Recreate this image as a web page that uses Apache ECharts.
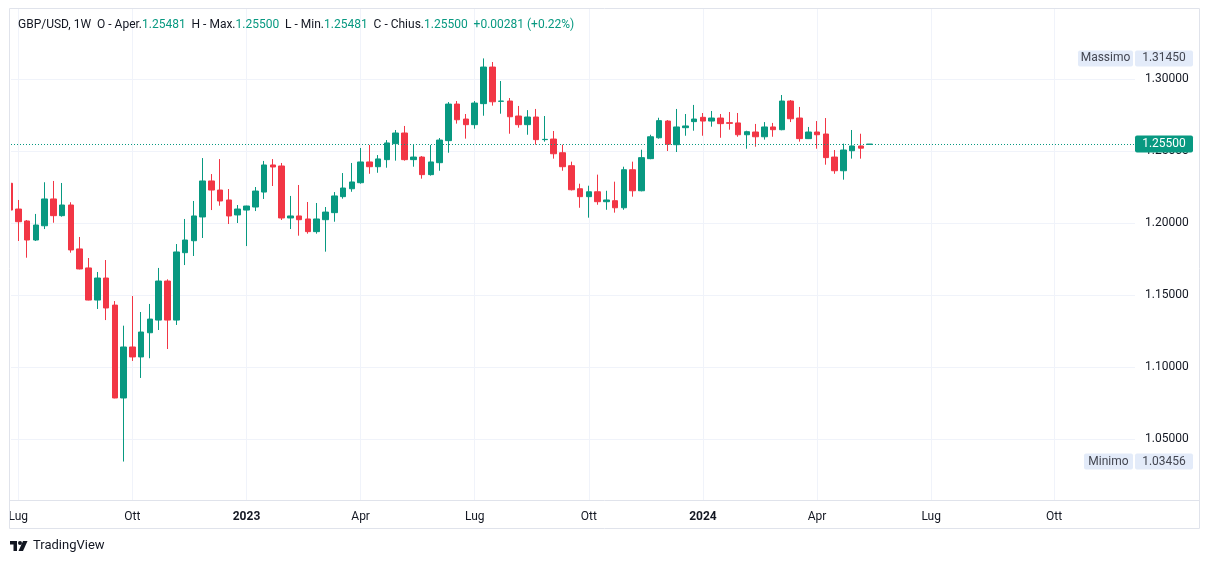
<!DOCTYPE html>
<html><head><meta charset="utf-8">
<script src="https://cdn.jsdelivr.net/npm/echarts@6/dist/echarts.min.js"></script>
<style>html,body{margin:0;padding:0;background:#fff;} #c{width:1209px;height:564px;}</style>
</head><body><div id="c"></div>
<script>
const dates = ['2022-06-27','2022-07-04','2022-07-11','2022-07-18','2022-07-25','2022-08-01','2022-08-08','2022-08-15','2022-08-22','2022-08-29','2022-09-05','2022-09-12','2022-09-19','2022-09-26','2022-10-03','2022-10-10','2022-10-17','2022-10-24','2022-10-31','2022-11-07','2022-11-14','2022-11-21','2022-11-28','2022-12-05','2022-12-12','2022-12-19','2022-12-26',
'2023-01-02','2023-01-09','2023-01-16','2023-01-23','2023-01-30','2023-02-06','2023-02-13','2023-02-20','2023-02-27','2023-03-06','2023-03-13','2023-03-20','2023-03-27','2023-04-03','2023-04-10','2023-04-17','2023-04-24','2023-05-01','2023-05-08','2023-05-15','2023-05-22','2023-05-29','2023-06-05','2023-06-12','2023-06-19','2023-06-26','2023-07-03','2023-07-10','2023-07-17','2023-07-24','2023-07-31','2023-08-07','2023-08-14','2023-08-21','2023-08-28','2023-09-04','2023-09-11','2023-09-18','2023-09-25','2023-10-02','2023-10-09','2023-10-16','2023-10-23','2023-10-30','2023-11-06','2023-11-13','2023-11-20','2023-11-27','2023-12-04','2023-12-11','2023-12-18','2023-12-25',
'2024-01-01','2024-01-08','2024-01-15','2024-01-22','2024-01-29','2024-02-05','2024-02-12','2024-02-19','2024-02-26','2024-03-04','2024-03-11','2024-03-18','2024-03-25','2024-04-01','2024-04-08','2024-04-15','2024-04-22','2024-04-29','2024-05-06','2024-05-13'];

const opens = [1.2278,1.2099,1.2016,1.1884,1.1983,1.2169,1.2053,1.2127,1.1822,1.1690,
1.1467,1.1620,1.1432,1.0787,1.1141,1.1072,1.1240,1.1328,1.1599,1.1328,
1.1796,1.1879,1.2044,1.2294,1.2231,1.2162,1.2058,1.2092,1.2113,1.2217,
1.2405,1.2398,1.2037,1.2051,1.2030,1.1942,1.2025,1.2074,1.2185,1.2240,
1.2282,1.2426,1.2393,1.2442,1.2553,1.2627,1.2442,1.2460,1.2338,1.2421,
1.2574,1.2828,1.2724,1.2685,1.2831,1.3085,1.2847,1.2849,1.2745,1.2685,
1.2738,1.2581,1.2585,1.2490,1.2400,1.2240,1.2185,1.2219,1.2150,1.2157,
1.2108,1.2372,1.2226,1.2449,1.2594,1.2710,1.2546,1.2664,1.2706,1.2736,
1.2710,1.2731,1.2699,1.2697,1.2615,1.2634,1.2601,1.2669,1.2650,1.2849,
1.2731,1.2588,1.2634,1.2620,1.2460,1.2365,1.2504,1.2537,1.25481];
const highs = [1.2290,1.2162,1.2023,1.2065,1.2285,1.2294,1.2280,1.2146,1.1905,1.1759,
1.1662,1.1745,1.1460,1.1289,1.1495,1.1384,1.1440,1.1690,1.1611,1.1856,
1.2030,1.2155,1.2453,1.2342,1.2446,1.2238,1.2127,1.2122,1.2252,1.2433,
1.2446,1.2419,1.2190,1.2266,1.2148,1.2141,1.2113,1.2217,1.2349,1.2419,
1.2523,1.2544,1.2474,1.2578,1.2648,1.2676,1.2544,1.2467,1.2544,1.2592,
1.2842,1.2849,1.2759,1.2849,1.3145,1.3120,1.2988,1.2870,1.2815,1.2786,
1.2794,1.2745,1.2641,1.2546,1.2428,1.2275,1.2261,1.2338,1.2226,1.2289,
1.2393,1.2428,1.2511,1.2615,1.2733,1.2717,1.2794,1.2759,1.2822,1.2766,
1.2780,1.2759,1.2773,1.2766,1.2643,1.2690,1.2703,1.2697,1.2891,1.2856,
1.2808,1.2669,1.2710,1.2731,1.2509,1.2553,1.2648,1.2622,1.25500];
const lows = [1.2085,1.1877,1.1761,1.1877,1.1960,1.2004,1.2046,1.1796,1.1680,1.1465,
1.1405,1.1328,1.0785,1.03456,1.1044,1.0926,1.1063,1.1259,1.1127,1.1294,
1.1710,1.1773,1.1898,1.2092,1.2122,1.1995,1.2002,1.1842,1.2085,1.2169,
1.2259,1.2023,1.1960,1.1914,1.1928,1.1928,1.1803,1.2011,1.2171,1.2219,
1.2275,1.2344,1.2351,1.2386,1.2435,1.2435,1.2393,1.2310,1.2331,1.2365,
1.2490,1.2692,1.2588,1.2657,1.2747,1.2817,1.2761,1.2622,1.2664,1.2615,
1.2546,1.2567,1.2449,1.2365,1.2228,1.2108,1.2039,1.2129,1.2094,1.2074,
1.2094,1.2185,1.2222,1.2445,1.2588,1.2502,1.2495,1.2608,1.2643,1.2608,
1.2671,1.2594,1.2650,1.2601,1.2518,1.2532,1.2581,1.2601,1.2646,1.2703,
1.2567,1.2585,1.2518,1.2407,1.2344,1.2303,1.2449,1.2449,1.25481];
const closes = [1.2092,1.2011,1.1884,1.1988,1.2169,1.2053,1.2127,1.1815,1.1683,1.1467,
1.1620,1.1412,1.0787,1.1141,1.1072,1.1245,1.1335,1.1599,1.1328,1.1801,
1.1884,1.2051,1.2294,1.2231,1.2155,1.2051,1.2099,1.2120,1.2224,1.2405,
1.2391,1.2037,1.2051,1.2025,1.1942,1.2030,1.2078,1.2190,1.2245,1.2287,
1.2426,1.2393,1.2447,1.2558,1.2627,1.2442,1.2460,1.2338,1.2426,1.2578,
1.2828,1.2719,1.2685,1.2835,1.3085,1.2844,1.2849,1.2740,1.2685,1.2738,
1.2581,1.2583,1.2483,1.2393,1.2233,1.2185,1.2219,1.2150,1.2162,1.2108,
1.2372,1.2226,1.2456,1.2601,1.2713,1.2549,1.2669,1.2676,1.2724,1.2710,
1.2731,1.2692,1.2694,1.2615,1.2636,1.2601,1.2669,1.2650,1.2849,1.2726,
1.2588,1.2634,1.2615,1.2456,1.2365,1.2509,1.2537,1.25219,1.25500];

const tickIndex = [1,14,27,40,53,66,79,92,105,119];
const tickLabels = ['Lug','Ott','2023','Apr','Lug','Ott','2024','Apr','Lug','Ott'];
const priceTicks = [1.05,1.10,1.15,1.20,1.25,1.30];
const symbolTitle = 'GBP/USD, 1W';

const UP = '#089981', DOWN = '#f23645', TXT = '#131722', GRID = '#f0f3fa', BORDER = '#e0e3eb';
const FONT = 'Roboto, "Noto Sans", sans-serif';

const candles = dates.map((d, i) => [i, opens[i], closes[i], lows[i], highs[i]]);
const last = dates.length - 1;
const lastClose = closes[last];
const chg = closes[last] - closes[last - 1];
const pct = chg / closes[last - 1] * 100;
const hiVal = Math.max(...highs), loVal = Math.min(...lows);

const chart = echarts.init(document.getElementById('c'), null, {renderer: 'canvas'});
const option = {
  animation: false,
  backgroundColor: '#ffffff',
  grid: {left: 11, right: 74, top: 9, bottom: 64},
  xAxis: {
    type: 'value', min: 0.171, max: 128.22,
    axisLine: {show: false}, axisTick: {show: false, customValues: tickIndex},
    splitLine: {show: true, lineStyle: {color: GRID, width: 1}},
    axisLabel: {
      customValues: tickIndex, margin: 11, color: TXT, fontSize: 12, fontFamily: FONT,
      formatter: v => { const k = tickIndex.indexOf(Math.round(v)); const t = tickLabels[k] || '';
        return /^\d{4}$/.test(t) ? '{b|' + t + '}' : t; },
      rich: {b: {fontWeight: 'bold', fontSize: 12, color: TXT, fontFamily: FONT}}
    }
  },
  yAxis: {
    type: 'value', position: 'right', min: 1.00785, max: 1.34882, scale: true,
    axisLine: {show: false}, axisTick: {show: false, customValues: priceTicks},
    splitLine: {show: true, lineStyle: {color: GRID, width: 1}},
    axisLabel: {customValues: priceTicks, margin: 10, color: TXT, fontSize: 12, fontFamily: FONT,
      formatter: v => v.toFixed(5)}
  },
  series: [{
    type: 'candlestick',
    data: candles,
    encode: {x: 0, y: [1, 2, 3, 4]},
    barWidth: 6,
    clip: true,
    itemStyle: {color: UP, color0: DOWN, borderColor: UP, borderColor0: DOWN, borderWidth: 1}
  }]
};
chart.setOption(option);

function fmt(v) { return v.toFixed(5); }
const yHi = chart.convertToPixel({yAxisIndex: 0}, hiVal);
const yLo = chart.convertToPixel({yAxisIndex: 0}, loVal);
const yC = chart.convertToPixel({yAxisIndex: 0}, lastClose);
const TAGBG = '#e3ebf9', TAGTX = '#434651';

function tagPair(y, name, val, nameW) {
  return [
    {type: 'rect', shape: {x: 1133 - nameW, y: y - 8, width: nameW, height: 16, r: 2}, style: {fill: TAGBG}, z: 100},
    {type: 'text', x: 1133 - nameW / 2, y: y, style: {text: name, fill: TAGTX, font: '12px ' + FONT, align: 'center', verticalAlign: 'middle'}, z: 101},
    {type: 'rect', shape: {x: 1135, y: y - 8, width: 58, height: 16, r: 2}, style: {fill: TAGBG}, z: 100},
    {type: 'text', x: 1164, y: y, style: {text: fmt(val), fill: TAGTX, font: '12px ' + FONT, align: 'center', verticalAlign: 'middle'}, z: 101}
  ];
}

const header = '{a|' + symbolTitle + '  O - Aper.}{g|' + fmt(opens[last]) + '}{a|  H - Max.}{g|' + fmt(highs[last]) +
  '}{a|  L - Min.}{g|' + fmt(lows[last]) + '}{a|  C - Chius.}{g|' + fmt(closes[last]) + '}{g|  ' +
  (chg >= 0 ? '+' : '') + chg.toFixed(5) + ' (' + (pct >= 0 ? '+' : '') + pct.toFixed(2) + '%)}';

const yLine = Math.round(yC) + 0.5;
chart.setOption({
  graphic: [
    {type: 'rect', shape: {x: 0, y: 9, width: 11, height: 491}, style: {fill: '#ffffff'}, z: 80, silent: true},
    {type: 'line', shape: {x1: 11, y1: yLine, x2: 1135, y2: yLine}, style: {stroke: UP, lineWidth: 1, lineDash: [1, 2]}, z: 85, silent: true},
    {type: 'rect', shape: {x: 9.5, y: 8.5, width: 1190, height: 520}, style: {fill: 'none', stroke: BORDER, lineWidth: 1}, z: 90, silent: true},
    {type: 'line', shape: {x1: 9.5, y1: 500.5, x2: 1199.5, y2: 500.5}, style: {stroke: BORDER, lineWidth: 1}, z: 90, silent: true},
    {type: 'text', x: 18, y: 25, style: {text: header, verticalAlign: 'middle',
      rich: {a: {fill: TXT, fontSize: 12, fontFamily: FONT}, g: {fill: UP, fontSize: 12, fontFamily: FONT}}}, z: 100},
    ...tagPair(yHi, 'Massimo', hiVal, 55),
    ...tagPair(yLo, 'Minimo', loVal, 49),
    {type: 'rect', shape: {x: 1135, y: yC - 8.5, width: 58, height: 17, r: 2}, style: {fill: UP}, z: 100},
    {type: 'text', x: 1164, y: yC, style: {text: fmt(lastClose), fill: '#ffffff', font: '12px ' + FONT, align: 'center', verticalAlign: 'middle'}, z: 101},
    {type: 'group', x: 10, y: 541, z: 100, children: [
      {type: 'rect', shape: {x: 0, y: 0, width: 7, height: 3.5}, style: {fill: TXT}},
      {type: 'rect', shape: {x: 3.5, y: 0, width: 3.5, height: 10}, style: {fill: TXT}},
      {type: 'circle', shape: {cx: 10, cy: 2, r: 2}, style: {fill: TXT}},
      {type: 'polygon', shape: {points: [[13, 0], [17.5, 0], [13, 10], [8.5, 10]]}, style: {fill: TXT}}
    ]},
    {type: 'text', x: 33, y: 546, style: {text: 'TradingView', fill: TXT, font: '13px ' + FONT, verticalAlign: 'middle'}, z: 100}
  ]
});
</script></body></html>
